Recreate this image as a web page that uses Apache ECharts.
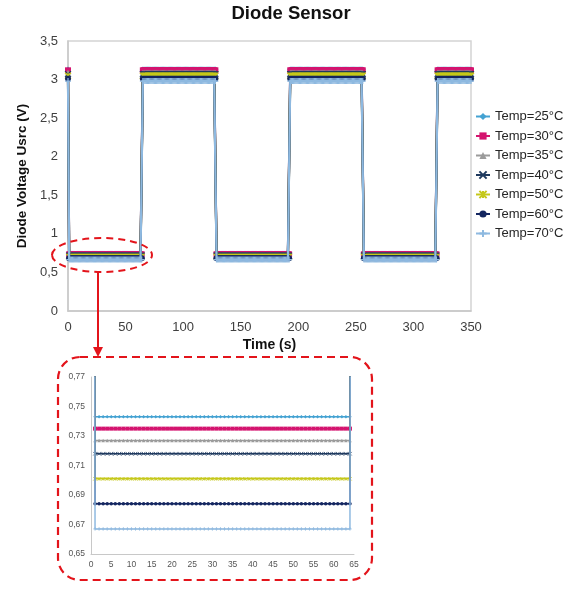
<!DOCTYPE html>
<html><head><meta charset="utf-8">
<script src="https://cdn.jsdelivr.net/npm/echarts@6/dist/echarts.min.js"></script>
<style>html,body{margin:0;padding:0;background:#fff}#c{width:574px;height:589px}</style>
</head><body><div id="c"></div>
<script>
const seriesNames = ['Temp=25°C','Temp=30°C','Temp=35°C','Temp=40°C','Temp=50°C','Temp=60°C','Temp=70°C'];
const lowLevels  = [0.743, 0.735, 0.727, 0.718, 0.701, 0.684, 0.667];
const highLevels = [3.13, 3.12, 3.09, 3.07, 3.05, 3.01, 2.98];
// switching times (s) and the level held from each start
const phaseStarts = [0, 1, 65, 129, 193, 257, 321];
const phaseStates = ['high','low','high','low','high','low','high'];
const endTime = 350;
const sampleStep = 1;
const mainYTicks = [0, 0.5, 1, 1.5, 2, 2.5, 3, 3.5];
const insetYTicks = [0.65, 0.67, 0.69, 0.71, 0.73, 0.75, 0.77];

const colors = ['#44A2D2','#D4146F','#9B9B9B','#1F3A5F','#C5C81A','#142660','#8EB9E0'];
const xPath = 'path://M0,0L10,10M10,0L0,10';
const plusPath = 'path://M5,0L5,10M0,5L10,5';
const starPath = 'path://M0,0L10,10M10,0L0,10M5,0L5,10';
const symbols = ['diamond','rect','triangle',xPath,starPath,'circle',plusPath];
const strokeSym = [false,false,false,true,true,false,true];

function buildSeries(i){
  const pts = [];
  for (let t = 0; t <= endTime; t += sampleStep){
    let p = 0;
    for (let k = 0; k < phaseStarts.length; k++) if (t >= phaseStarts[k]) p = k;
    pts.push([t, phaseStates[p] === 'high' ? highLevels[i] : lowLevels[i]]);
  }
  return pts;
}
const dataSets = seriesNames.map((n,i)=>buildSeries(i));
const comma = v => String(+v.toFixed(2)).replace('.', ',');
const font = "'Liberation Sans', Arial, sans-serif";

const series = [];
seriesNames.forEach((n,i)=>{
  series.push({
    type:'line', name:n, data:dataSets[i], xAxisIndex:0, yAxisIndex:0,
    symbol:symbols[i], symbolSize:6, showSymbol:true,
    lineStyle:{color:colors[i], width:2.2},
    itemStyle:{color:colors[i], borderColor:colors[i], borderWidth: strokeSym[i]?1.2:0},
    animation:false, z:2+i
  });
  series.push({
    type:'line', name:n, data:dataSets[i], xAxisIndex:1, yAxisIndex:1,
    symbol:symbols[i], symbolSize: i===1?4:3.5, showSymbol:true,
    lineStyle:{color:colors[i], width:1.5},
    itemStyle:{color:colors[i], borderColor:colors[i], borderWidth: strokeSym[i]?0.8:0},
    animation:false, z:2+i
  });
});

const chart = echarts.init(document.getElementById('c'));
chart.setOption({
  animation:false,
  textStyle:{fontFamily:font},
  legend:{
    data:seriesNames, orient:'vertical', left:475, top:110, itemGap:6.5, padding:0,
    itemWidth:14, itemHeight:9, textStyle:{fontSize:13, color:'#262626', fontFamily:font}
  },
  grid:[
    {left:68, right:103, top:41, bottom:278, show:true, borderColor:'#D4D4D4', borderWidth:1.5},
    {left:91, right:220, top:377, bottom:35}
  ],
  xAxis:[
    {type:'value', gridIndex:0, min:0, max:endTime, interval:50,
     name:'Time (s)', nameLocation:'middle', nameGap:27,
     nameTextStyle:{fontSize:14, fontWeight:'bold', color:'#111'},
     axisLine:{lineStyle:{color:'#C8C8C8', width:1.5}}, axisTick:{show:false}, splitLine:{show:false},
     axisLabel:{fontSize:13, color:'#404040', margin:10}},
    {type:'value', gridIndex:1, min:0, max:65, interval:5,
     axisLine:{lineStyle:{color:'#C8C8C8', width:1}}, axisTick:{show:false}, splitLine:{show:false},
     axisLabel:{fontSize:8.5, color:'#555', margin:6}}
  ],
  yAxis:[
    {type:'value', gridIndex:0, min:0, max:3.5, interval:0.5,
     name:'Diode Voltage Usrc (V)', nameLocation:'middle', nameGap:28,
     nameTextStyle:{fontSize:13.5, fontWeight:'bold', color:'#111'},
     axisLine:{show:true, lineStyle:{color:'#C8C8C8', width:1.5}}, axisTick:{show:false}, splitLine:{show:false},
     axisLabel:{fontSize:13, color:'#404040', margin:10, formatter:v=>comma(v)}},
    {type:'value', gridIndex:1, min:0.65, max:0.77, interval:0.02,
     axisLine:{show:true, lineStyle:{color:'#C8C8C8', width:1}}, axisTick:{show:false}, splitLine:{show:false},
     axisLabel:{fontSize:8.5, color:'#555', margin:6, formatter:v=>comma(v)}}
  ],
  graphic:[
    {type:'text', x:291, y:14, style:{text:'Diode Sensor', font:"bold 18.5px 'Liberation Sans', Arial", fill:'#111', align:'center', verticalAlign:'middle'}, z:10},
    {type:'ellipse', shape:{cx:102, cy:255, rx:50, ry:17}, style:{fill:'none', stroke:'#E3141B', lineWidth:2, lineDash:[7,5]}, z:20},
    {type:'line', shape:{x1:98, y1:272, x2:98, y2:349}, style:{stroke:'#E3141B', lineWidth:2}, z:20},
    {type:'polygon', shape:{points:[[93,347],[103,347],[98,357]]}, style:{fill:'#E3141B'}, z:20},
    {type:'rect', shape:{x:58, y:357, width:314, height:223, r:22}, style:{fill:'none', stroke:'#E3141B', lineWidth:2.2, lineDash:[8,5]}, z:20}
  ],
  series:series
});
</script>
</body></html>
